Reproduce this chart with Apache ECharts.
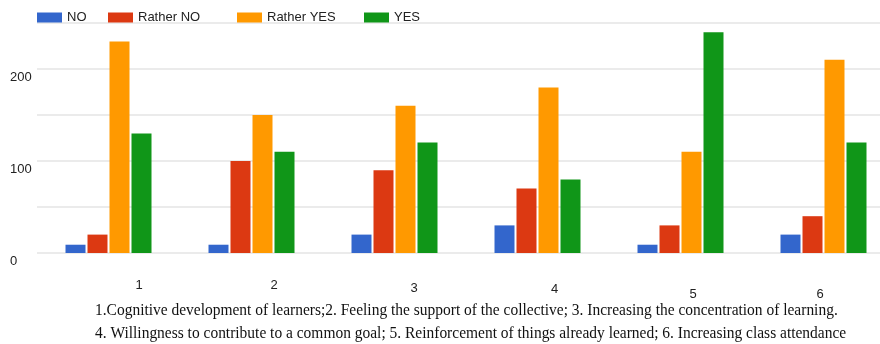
<!DOCTYPE html>
<html>
<head>
<meta charset="utf-8">
<script src="https://cdn.jsdelivr.net/npm/echarts@6/dist/echarts.min.js"></script>
<style>
  html, body { margin: 0; padding: 0; background: #fff; }
  #main { width: 880px; height: 344px; }
</style>
</head>
<body>
<div id="main"></div>
<script>
var categories = ['1', '2', '3', '4', '5', '6'];
var seriesNames = ['NO', 'Rather NO', 'Rather YES', 'YES'];
var valNo = [9, 9, 20, 30, 9, 20];
var valRatherNo = [20, 100, 90, 70, 30, 40];
var valRatherYes = [230, 150, 160, 180, 110, 210];
var valYes = [130, 110, 120, 80, 240, 120];
var yTickLabels = [0, 100, 200];

var footerLines = [
	'1.Cognitive development of learners;2. Feeling the support of the collective; 3. Increasing the concentration of learning.',
	'4. Willingness to contribute to a common goal; 5. Reinforcement of things already learned; 6. Increasing class attendance'
];

// the category numbers sit a bit off their groups in the picture
var labelShift = [[61, 0], [45, 0], [39, 3], [34, 4], [25, 9], [-7, 9]];
var rich = {};
for (var i = 0; i < labelShift.length; i++) {
	var dx = labelShift[i][0];
	rich['l' + i] = {
		fontSize: 13,
		color: '#222',
		padding: [labelShift[i][1], dx < 0 ? -dx : 0, 0, dx > 0 ? dx : 0]
	};
}

var colors = ['#3366cc', '#dc3912', '#ff9900', '#109618'];
var legendLeft = [37, 108, 237, 364];
var legends = [];
for (var k = 0; k < seriesNames.length; k++) {
	legends.push({
		data: [seriesNames[k]],
		left: legendLeft[k],
		top: 11,
		padding: 0,
		itemWidth: 25,
		itemHeight: 10,
		icon: 'rect',
		textStyle: { fontSize: 13, color: '#222' }
	});
}

function bar(name, data, color) {
	return {
		name: name,
		type: 'bar',
		data: data,
		barWidth: 20,
		barGap: '10%',
		itemStyle: { color: color }
	};
}

var chart = echarts.init(document.getElementById('main'));
chart.setOption({
	animation: false,
	textStyle: { fontFamily: 'Liberation Sans, Arial, sans-serif' },
	color: colors,
	legend: legends,
	// plot runs past the right edge, the last group is cut in the original
	grid: { left: 37, width: 858, top: 23, bottom: 91, outerBoundsMode: 'none', containLabel: false },
	xAxis: {
		type: 'category',
		data: categories,
		axisLine: { show: false },
		axisTick: { show: false },
		axisLabel: {
			margin: 26,
			formatter: function (v, idx) { return '{l' + idx + '|' + v + '}'; },
			rich: rich
		}
	},
	yAxis: {
		type: 'value',
		min: 0,
		max: 250,
		interval: 50,
		axisLine: { show: false },
		axisTick: { show: false },
		splitLine: { lineStyle: { color: '#e4e4e4', width: 1.5 } },
		axisLabel: {
			margin: 27,
			align: 'left',
			verticalAlign: 'top',
			padding: [2, 0, 0, 0],
			fontSize: 13,
			color: '#222',
			formatter: function (v) { return yTickLabels.indexOf(v) >= 0 ? String(v) : ''; }
		}
	},
	graphic: [
		{ type: 'text', left: 95, top: 302, style: { text: footerLines[0], font: '17px "Liberation Serif", "Times New Roman", serif', fill: '#111' }, scaleX: 0.91 },
		{ type: 'text', left: 95, top: 325, style: { text: footerLines[1], font: '17px "Liberation Serif", "Times New Roman", serif', fill: '#111' }, scaleX: 0.91 }
	],
	series: [
		bar(seriesNames[0], valNo, colors[0]),
		bar(seriesNames[1], valRatherNo, colors[1]),
		bar(seriesNames[2], valRatherYes, colors[2]),
		bar(seriesNames[3], valYes, colors[3])
	]
});
window.onresize = chart.resize;
</script>
</body>
</html>
